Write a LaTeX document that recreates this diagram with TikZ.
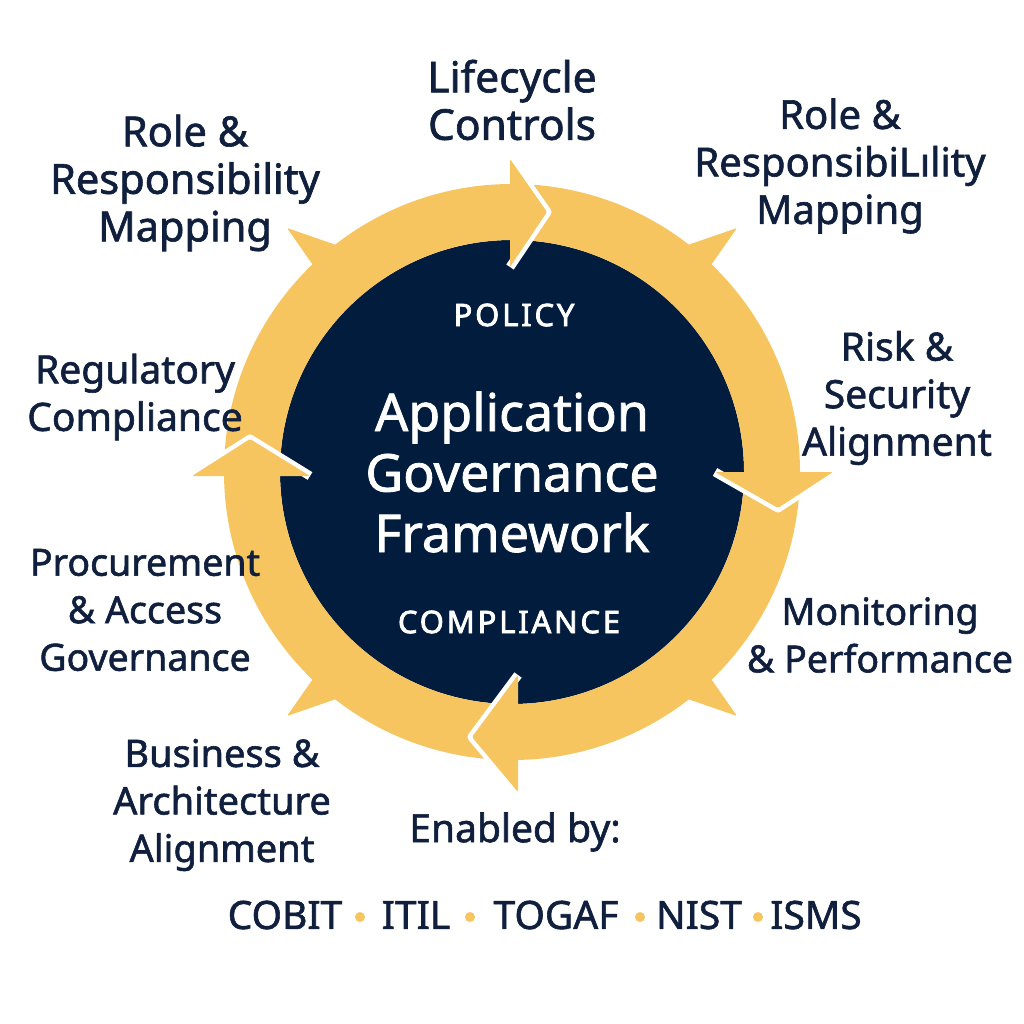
\documentclass[tikz,border=0pt]{standalone}
\usepackage{fontspec}
\setmainfont{Noto Sans}
\definecolor{navy}{HTML}{021C3E}
\definecolor{ink}{HTML}{0F1F3D}
\definecolor{ringyellow}{HTML}{F7C55F}
\newcommand{\lblfont}[1]{\fontsize{#1}{47.5}\selectfont\addfontfeature{FakeBold=1.5}}
\tikzset{
  lbl/.style={text=ink, align=center, inner sep=0pt, font=\lblfont{39}},
  inner/.style={text=white, align=center, inner sep=0pt},
  capword/.style={inner, font=\fontsize{31}{36}\selectfont\addfontfeature{LetterSpace=9,FakeBold=2.5}},
  fwword/.style={text=ink, inner sep=0pt, font=\fontsize{39}{47}\selectfont\addfontfeature{FakeBold=1.5}},
  fwdot/.style={fill=ringyellow},
  ringfill/.style={fill=ringyellow},
  headedge/.style={draw=white, line width=9pt, line join=round, line cap=butt},
  headfill/.style={fill=ringyellow, rounded corners=1.5pt},
}
\begin{document}
\begin{tikzpicture}[x=1pt,y=-1pt]
\useasboundingbox (0,0) rectangle (1024,1024);
\fill[white] (0,0) rectangle (1024,1024);
\coordinate (C) at (512,472);
% core and ring
\fill[navy] (C) circle (232pt);
\fill[ringyellow, even odd rule] (C) circle (288pt) (C) circle (232pt);
% spikes
\fill[ringfill, rounded corners=2pt] (287,228) -- (339,246) -- (315,268) -- cycle;
\fill[ringfill, rounded corners=2pt] (737,228) -- (685,246) -- (709,268) -- cycle;
\fill[ringfill, rounded corners=2pt] (287,716) -- (339,698) -- (315,676) -- cycle;
\fill[ringfill, rounded corners=2pt] (737,716) -- (685,698) -- (709,676) -- cycle;
% arrow heads: top, right, bottom, left
\coordinate (ta) at (510,159); \coordinate (tt) at (547,212); \coordinate (tb) at (510,267);
\coordinate (ra) at (715,472); \coordinate (rt) at (778,508); \coordinate (rb) at (833,472);
\coordinate (ba) at (518,675); \coordinate (bt) at (472,737); \coordinate (bb) at (518,792);
\coordinate (la) at (192,476); \coordinate (lt) at (250,439); \coordinate (lb) at (310,476);
\foreach \p in {t,r,b,l}{
  \draw[headedge] (\p a) -- (\p t) -- (\p b);
  \fill[headfill] (\p a) -- (\p t) -- (\p b) -- cycle;
}
% centre texts
\node[capword] (policy) at (514,315) {POLICY};
\node[inner, font=\fontsize{52}{60.5}\selectfont\addfontfeature{FakeBold=1.5}] (title) at (512,472) {Application\\Governance\\Framework};
\node[capword] (compl) at (509,622) {COMPLIANCE};
% outer labels
\node[lbl, font=\lblfont{42.5}] (life) at (512,100) {Lifecycle\\Controls};
\node[lbl, font=\lblfont{41.5}] (roleL) at (185,183) {Role \&\\Responsibility\\Mapping};
\node[lbl, font=\lblfont{40}] (roleR) at (840,166) {Role \&\\ResponsibiLılity\\Mapping};
\node[lbl] (risk) at (897,398) {Risk \&\\Security\\Alignment};
\node[lbl, font=\lblfont{37.5}] (mon) at (880,635) {Monitoring\\\& Performance};
\node[lbl] (reg) at (135,397) {Regulatory\\Compliance};
\node[lbl, font=\lblfont{37.5}] (proc) at (145,610) {Procurement\\\& Access\\Governance};
\node[lbl, font=\lblfont{38}] (bus) at (222,805) {Business \&\\Architecture\\Alignment};
\node[lbl] (enab) at (515,832) {Enabled by:};
% frameworks row
\node[fwword] (cobit) at (285,915) {COBIT};
\node[fwword] (itil) at (416,915) {ITIL};
\node[fwword] (togaf) at (556,915) {TOGAF};
\node[fwword] (nist) at (699,915) {NIST};
\node[fwword] (isms) at (816,915) {ISMS};
\fill[fwdot] (360,917) circle (5pt);
\fill[fwdot] (470,917) circle (5pt);
\fill[fwdot] (640,917) circle (5pt);
\fill[fwdot] (758,917) circle (5pt);
\end{tikzpicture}
\end{document}
